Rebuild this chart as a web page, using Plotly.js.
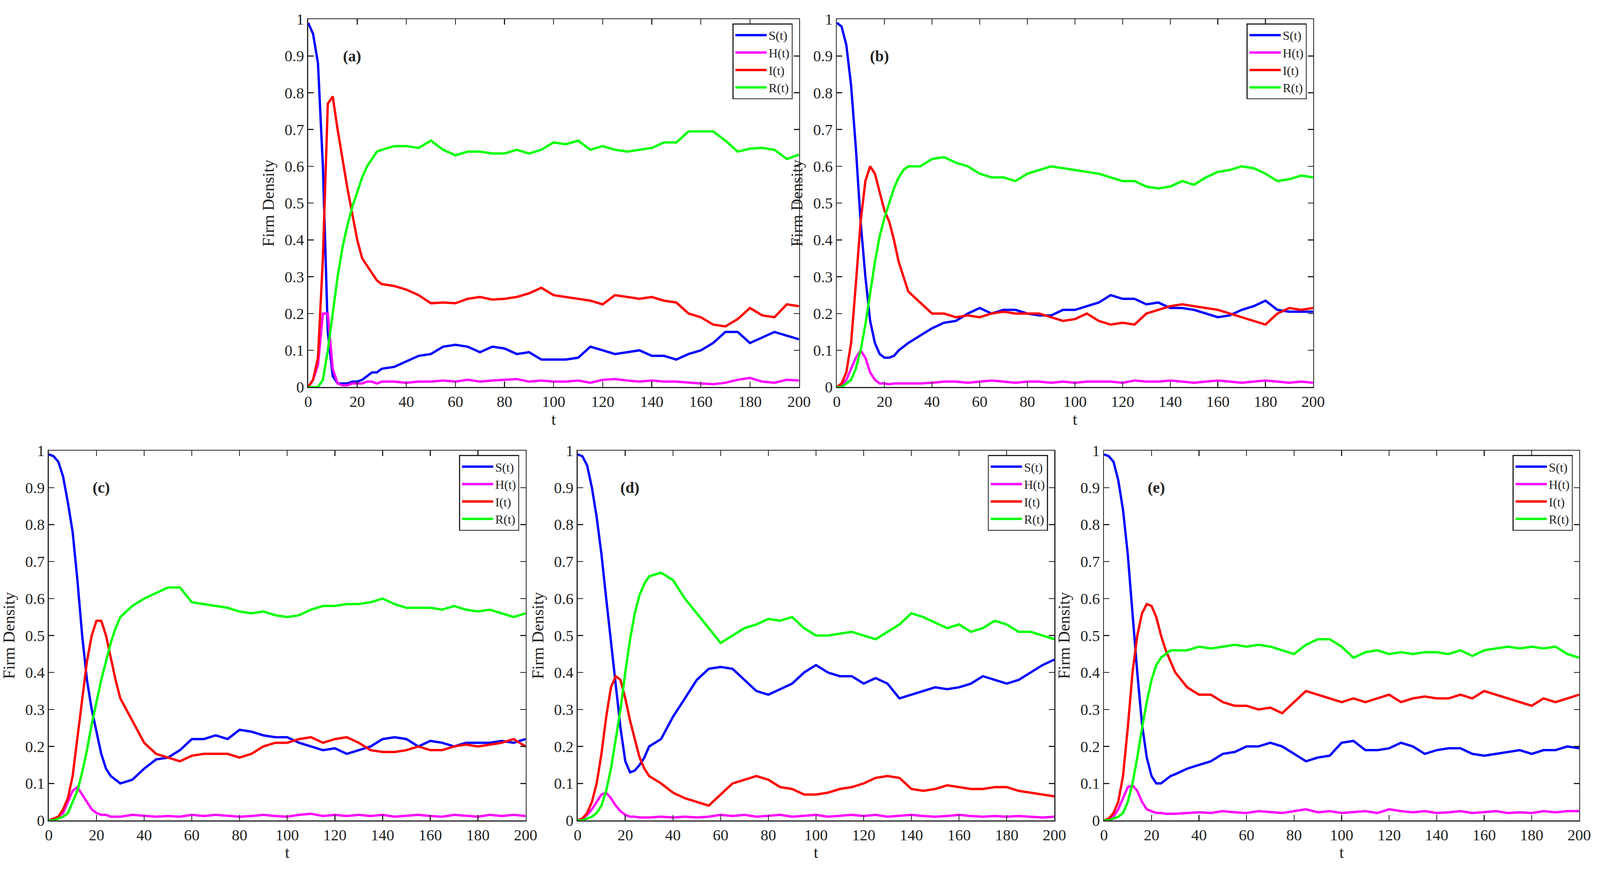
<!DOCTYPE html>
<html>
<head>
<meta charset="utf-8">
<script src="https://cdn.plot.ly/plotly-3.0.1.min.js"></script>
<style>html,body{margin:0;padding:0;background:#fff;overflow:hidden}#chart{width:100vw;height:100vh}</style>
</head>
<body>
<div id="chart"></div>
<script>
/******************** DATA ********************/
const T = [0,2,4,6,8,10,12,14,16,18,20,22,24,26,28,30,
  35,40,45,50,55,60,65,70,75,80,85,90,95,100,105,110,115,120,125,130,
  135,140,145,150,155,160,165,170,175,180,185,190,195,200];

// panel (a)
const aS = [.99,.96,.88,.6,.15,.03,.01,.01,.01,.015,.015,.02,.03,.04,.04,.05,
  .055,.07,.085,.09,.11,.115,.11,.095,.11,.105,.09,.095,.075,.075,.075,.08,.11,.1,.09,.095,.1,.085,.085,.075,.09,.1,.12,.15,.15,.12,.135,.15,.14,.13];
const aH = [0,.02,.06,.2,.2,.05,.01,.005,.005,.01,.01,.01,.015,.015,.01,.015,
  .015,.012,.015,.015,.018,.015,.02,.015,.018,.02,.022,.015,.018,.015,.015,.018,.012,.02,.022,.018,.015,.018,.015,.015,.012,.01,.008,.012,.02,.025,.015,.012,.02,.018];
const aI = [0,.02,.08,.35,.77,.79,.7,.62,.54,.47,.4,.35,.33,.31,.29,.28,
  .275,.265,.25,.228,.23,.228,.24,.245,.238,.24,.245,.255,.27,.25,.245,.24,.235,.225,.25,.245,.24,.245,.235,.23,.2,.19,.17,.165,.185,.215,.195,.19,.225,.22];
const aR = [0,0,0,.02,.1,.2,.3,.38,.44,.49,.53,.57,.6,.62,.64,.645,
  .655,.655,.65,.67,.645,.63,.64,.64,.635,.635,.645,.635,.645,.665,.66,.67,.645,.655,.645,.64,.645,.65,.665,.665,.695,.695,.695,.67,.64,.648,.65,.645,.62,.632];

// panel (b)
const bS = [.99,.98,.93,.82,.65,.45,.3,.18,.12,.09,.08,.08,.085,.1,.11,.12,
  .14,.16,.175,.18,.2,.215,.2,.21,.21,.2,.195,.195,.21,.21,.22,.23,.25,.24,.24,.225,.23,.215,.215,.21,.2,.19,.195,.21,.22,.235,.21,.205,.205,.205];
const bH = [0,.005,.02,.05,.08,.1,.08,.04,.02,.01,.01,.008,.01,.01,.01,.01,
  .01,.012,.015,.015,.012,.015,.018,.015,.012,.015,.015,.012,.015,.012,.015,.015,.015,.012,.018,.015,.015,.018,.015,.012,.015,.018,.015,.012,.015,.018,.015,.012,.015,.012];
const bI = [0,.01,.04,.12,.28,.45,.56,.6,.58,.53,.48,.45,.4,.34,.3,.26,
  .23,.2,.2,.19,.195,.19,.2,.205,.2,.2,.2,.19,.18,.185,.2,.18,.17,.175,.17,.2,.21,.22,.225,.22,.215,.21,.2,.19,.18,.17,.2,.215,.21,.215];
const bR = [0,0,.01,.02,.05,.1,.17,.26,.34,.41,.46,.5,.54,.57,.59,.6,
  .6,.62,.625,.61,.6,.58,.57,.57,.56,.58,.59,.6,.595,.59,.585,.58,.57,.56,.56,.545,.54,.545,.56,.55,.57,.585,.59,.6,.595,.58,.56,.565,.575,.57];

// panel (c)
const cS = [.99,.985,.97,.93,.86,.78,.65,.5,.38,.3,.24,.18,.14,.12,.11,.1,
  .11,.14,.165,.17,.19,.22,.22,.23,.22,.245,.24,.23,.225,.225,.21,.2,.19,.195,.18,.19,.2,.22,.225,.22,.2,.215,.21,.2,.21,.21,.21,.215,.21,.22];
const cH = [0,.005,.01,.02,.05,.08,.09,.07,.05,.03,.02,.015,.015,.01,.01,.01,
  .015,.012,.01,.012,.01,.015,.012,.015,.012,.01,.012,.015,.012,.01,.015,.018,.012,.015,.012,.015,.012,.015,.01,.012,.015,.012,.01,.015,.012,.01,.015,.012,.015,.012];
const cI = [0,.005,.01,.03,.06,.12,.22,.33,.43,.5,.54,.54,.5,.44,.38,.33,
  .27,.21,.18,.17,.16,.175,.18,.18,.18,.17,.18,.2,.21,.21,.22,.225,.21,.22,.225,.21,.19,.185,.185,.19,.2,.19,.19,.2,.205,.2,.205,.21,.22,.2];
const cR = [0,0,.005,.01,.02,.05,.08,.13,.19,.26,.32,.38,.43,.48,.52,.55,
  .58,.6,.615,.63,.63,.59,.585,.58,.575,.565,.56,.565,.555,.55,.555,.57,.58,.58,.585,.585,.59,.6,.585,.575,.575,.575,.57,.58,.57,.565,.57,.56,.55,.56];

// panel (d)
const dS = [.99,.985,.96,.9,.82,.72,.6,.48,.36,.25,.16,.13,.135,.15,.17,.2,
  .22,.28,.33,.38,.41,.415,.41,.38,.35,.34,.355,.37,.4,.42,.4,.39,.39,.37,.385,.37,.33,.34,.35,.36,.355,.36,.37,.39,.38,.37,.38,.4,.42,.435];
const dH = [0,.005,.015,.03,.05,.07,.075,.06,.04,.025,.015,.01,.01,.008,.008,.008,
  .01,.008,.01,.008,.01,.015,.012,.015,.01,.012,.015,.01,.012,.015,.01,.012,.015,.012,.015,.01,.012,.015,.012,.01,.012,.015,.012,.01,.012,.01,.012,.01,.008,.01];
const dI = [0,.005,.02,.05,.1,.18,.28,.36,.39,.38,.33,.27,.22,.17,.14,.12,
  .1,.075,.06,.05,.04,.07,.1,.11,.12,.11,.09,.085,.07,.07,.075,.085,.09,.1,.115,.12,.115,.085,.08,.085,.095,.09,.085,.085,.09,.09,.08,.075,.07,.065];
const dR = [0,0,.005,.01,.02,.04,.08,.14,.22,.3,.4,.49,.56,.61,.64,.66,
  .67,.65,.6,.56,.52,.48,.5,.52,.53,.545,.54,.55,.52,.5,.5,.505,.51,.5,.49,.51,.53,.56,.55,.535,.52,.53,.51,.52,.54,.53,.51,.51,.5,.49];

// panel (e)
const eS = [.99,.985,.97,.92,.84,.72,.56,.4,.26,.17,.12,.1,.1,.11,.12,.125,
  .14,.15,.16,.18,.185,.2,.2,.21,.2,.18,.16,.17,.175,.21,.215,.19,.19,.195,.21,.2,.18,.19,.195,.195,.18,.175,.18,.185,.19,.18,.19,.19,.2,.195];
const eH = [0,.005,.01,.03,.06,.09,.095,.08,.05,.03,.025,.02,.02,.018,.018,.018,
  .02,.022,.02,.025,.022,.02,.025,.022,.02,.025,.03,.022,.025,.02,.022,.025,.02,.03,.025,.022,.025,.02,.022,.025,.02,.022,.025,.02,.022,.02,.025,.022,.025,.025];
const eI = [0,.005,.02,.05,.12,.25,.4,.5,.56,.585,.58,.55,.5,.46,.43,.4,
  .36,.34,.34,.32,.31,.31,.3,.305,.29,.32,.35,.34,.33,.32,.33,.32,.33,.34,.32,.33,.335,.33,.33,.34,.33,.35,.34,.33,.32,.31,.33,.32,.33,.34];
const eR = [0,0,.005,.01,.02,.05,.1,.17,.25,.32,.38,.42,.44,.45,.46,.46,
  .46,.47,.465,.47,.475,.47,.475,.47,.46,.45,.475,.49,.49,.47,.44,.455,.46,.45,.455,.45,.455,.455,.45,.46,.445,.46,.465,.47,.465,.47,.465,.47,.45,.44];

const seriesNames = ["S(t)", "H(t)", "I(t)", "R(t)"];
const seriesColors = ["#0000ff", "#ff00ff", "#ff0000", "#00ff00"];
const panelLabels = ["(a)", "(b)", "(c)", "(d)", "(e)"];
const panels = [[aS, aH, aI, aR], [bS, bH, bI, bR], [cS, cH, cI, cR], [dS, dH, dI, dR], [eS, eH, eI, eR]];

/******************** LAYOUT ********************/
const font = "Liberation Serif, Times New Roman, serif";
const domains = [
  { x: [0.1926, 0.4994], y: [0.555, 0.978] },
  { x: [0.523, 0.8207],  y: [0.555, 0.978] },
  { x: [0.0305, 0.3285], y: [0.057, 0.482] },
  { x: [0.361, 0.659],   y: [0.057, 0.482] },
  { x: [0.690, 0.987],   y: [0.057, 0.482] }
];

const layout = {
  width: window.innerWidth, height: window.innerHeight,
  margin: { l: 0, r: 0, t: 0, b: 0 },
  paper_bgcolor: "#fff", plot_bgcolor: "#fff",
  font: { family: font, size: 40, color: "#222" },
  annotations: []
};

const traces = [];
panels.forEach((series, p) => {
  const n = p + 1;
  const sfx = n === 1 ? "" : String(n);
  const axisCommon = {
    showline: true, mirror: "allticks", linecolor: "#222", linewidth: 2.5,
    ticks: "inside", ticklen: 14, tickwidth: 2.5, tickcolor: "#222",
    showgrid: false, zeroline: false, automargin: false,
    tickfont: { family: font, size: 40, color: "#222" }
  };
  layout["xaxis" + sfx] = {
    ...axisCommon, domain: domains[p].x, anchor: "y" + sfx,
    range: [0, 200], dtick: 20,
    title: { text: "t", font: { family: font, size: 42 }, standoff: 4 }
  };
  layout["yaxis" + sfx] = {
    ...axisCommon, domain: domains[p].y, anchor: "x" + sfx,
    range: [0, 1],
    tickvals: [0, .1, .2, .3, .4, .5, .6, .7, .8, .9, 1],
    ticktext: ["0", "0.1", "0.2", "0.3", "0.4", "0.5", "0.6", "0.7", "0.8", "0.9", "1"],
    title: { text: "Firm Density", font: { family: font, size: 42 }, standoff: 14 }
  };
  const legName = n === 1 ? "legend" : "legend" + n;
  layout[legName] = {
    x: domains[p].x[1] - 0.004, y: domains[p].y[1] - 0.005,
    xanchor: "right", yanchor: "top",
    bgcolor: "#fff", bordercolor: "#222", borderwidth: 2.5,
    font: { family: font, size: 32, color: "#222" },
    tracegroupgap: 0, itemwidth: 80
  };
  layout.annotations.push({
    xref: "x" + sfx, yref: "y" + sfx, x: p < 2 ? 18 : 22, y: 0.9,
    text: "<b>" + panelLabels[p] + "</b>", showarrow: false,
    font: { family: font, size: 40, color: "#222" }
  });
  series.forEach((vals, k) => {
    traces.push({
      x: T, y: vals, type: "scatter", mode: "lines",
      name: seriesNames[k], legend: legName,
      xaxis: "x" + sfx, yaxis: "y" + sfx,
      line: { color: seriesColors[k], width: 6 }
    });
  });
});

Plotly.newPlot("chart", traces, layout, { staticPlot: true });
</script>
</body>
</html>
